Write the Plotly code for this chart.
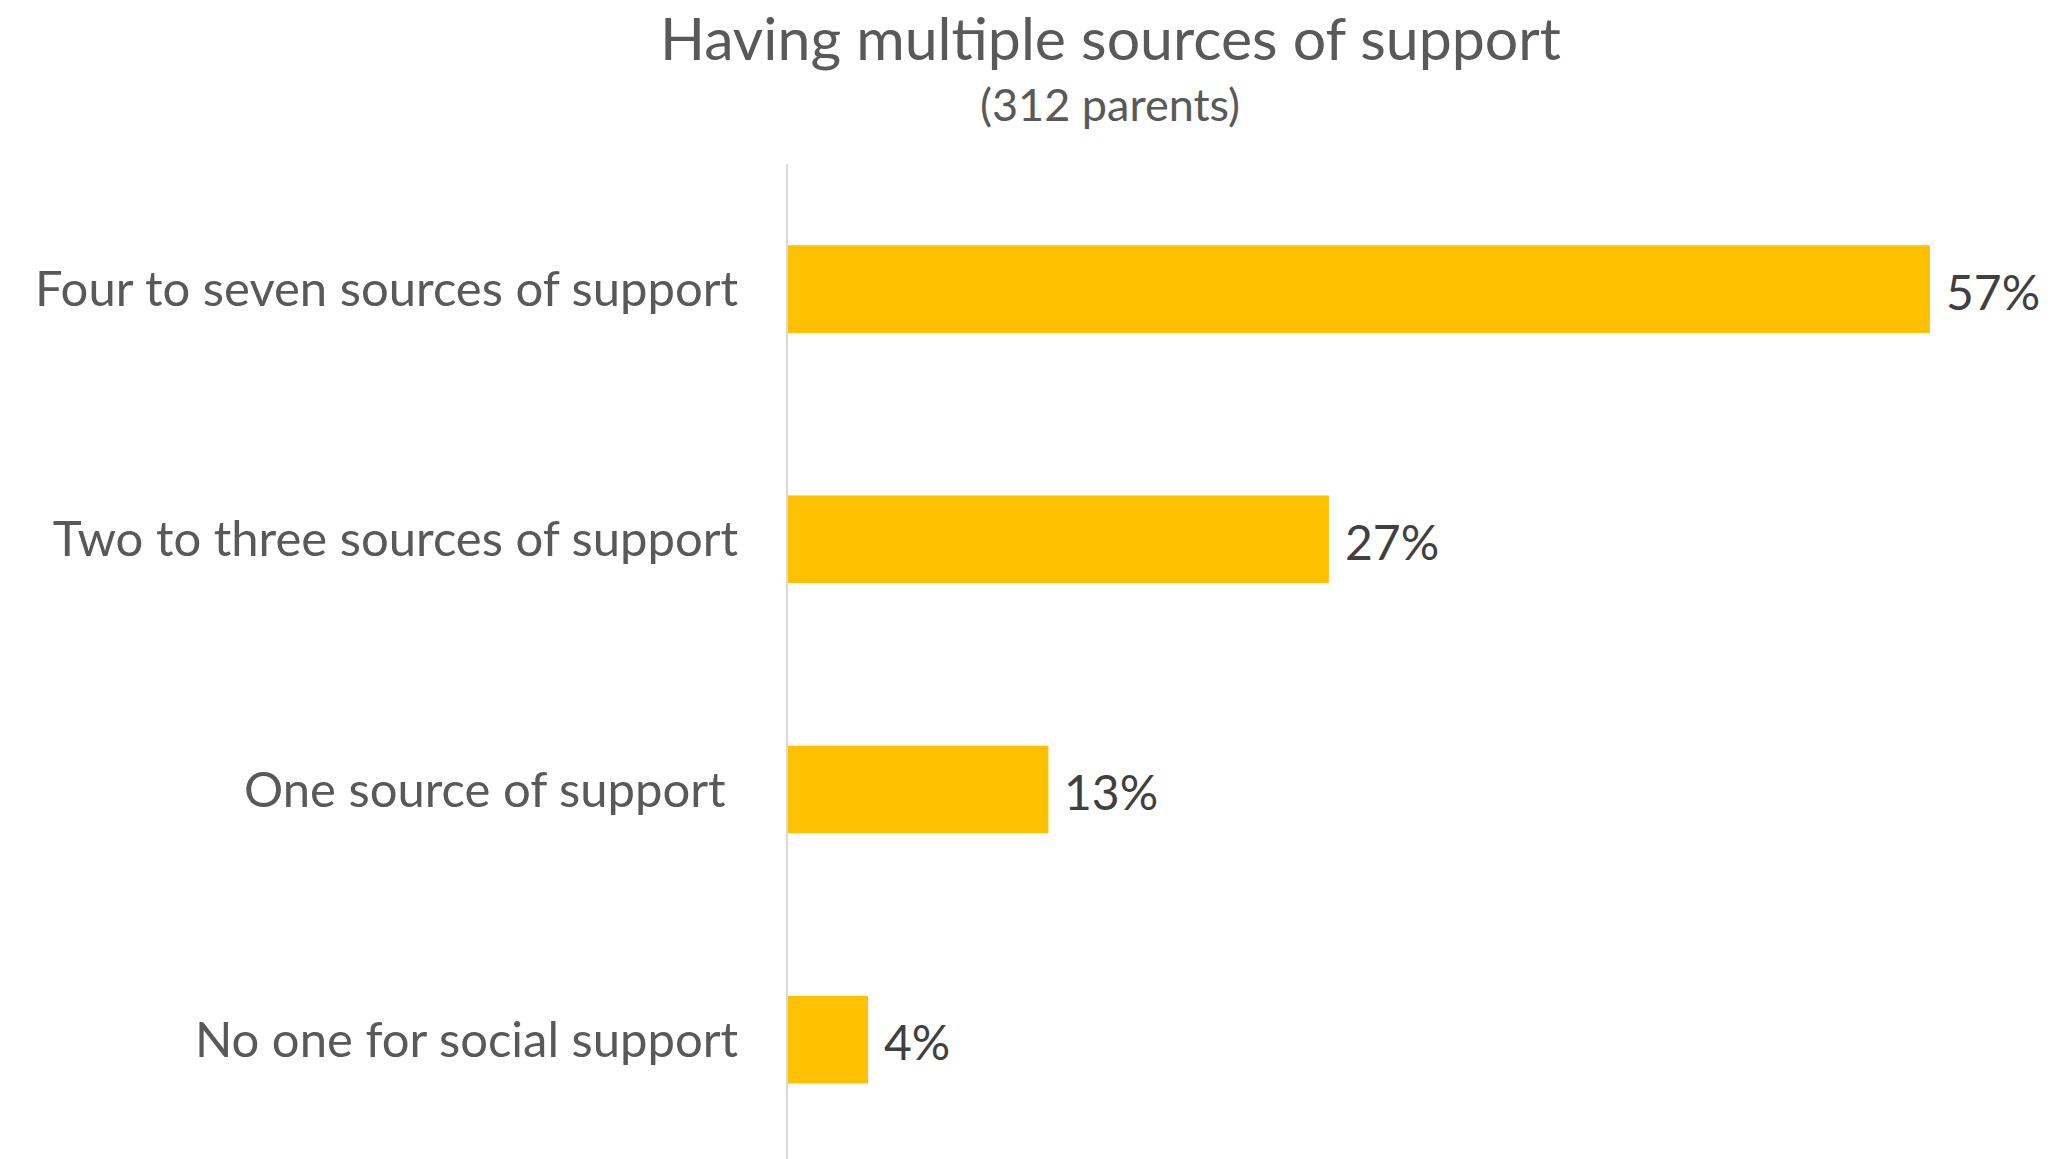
import plotly.graph_objects as go

# Share of parents by number of social-support sources
categories = [
    "No one for social support",
    "One source of support\u00a0",
    "Two to three sources of support",
    "Four to seven sources of support",
]
percentages = [4, 13, 27, 57]
value_labels = [f"{v}%" for v in percentages]

title_text = "Having multiple sources of support"
subtitle_text = "(312 parents)"

W, H = 2052, 1159
left, right, top = 788, 62, 164
plot_w = W - left - right

fig = go.Figure(
    go.Bar(
        x=percentages,
        y=categories,
        orientation="h",
        marker=dict(color="#FFC000", line=dict(width=0)),
        width=0.35,
        hoverinfo="x+y",
    )
)

# Value labels placed just past the end of each bar
for cat, val, lab in zip(categories, percentages, value_labels):
    fig.add_annotation(
        x=val, y=cat, xref="x", yref="y",
        text=lab, showarrow=False,
        xanchor="left", yanchor="middle", xshift=14, yshift=-2,
        font=dict(family="Lato", size=48, color="#404040"),
    )

fig.update_layout(
    width=W,
    height=H,
    margin=dict(l=left, r=right, t=top, b=0, pad=0),
    paper_bgcolor="white",
    plot_bgcolor="white",
    showlegend=False,
    font=dict(family="Lato", color="#595959"),
    xaxis=dict(
        range=[0, 60],
        visible=False,
        showgrid=False,
        zeroline=False,
    ),
    yaxis=dict(
        categoryorder="array",
        categoryarray=categories,
        range=[-0.477, 3.5],
        showgrid=False,
        zeroline=False,
        showline=True,
        linecolor="#D9D9D9",
        linewidth=2,
        ticks="",
        ticklabelstandoff=38,
        tickfont=dict(family="Lato", size=49, color="#595959"),
    ),
)

title_x = (1110 - left) / plot_w
fig.add_annotation(
    text=title_text,
    xref="paper", yref="paper",
    x=title_x, y=1 + (top - 38) / (H - top),
    xanchor="center", yanchor="middle",
    showarrow=False,
    font=dict(family="Lato", size=59, color="#595959"),
)
fig.add_annotation(
    text=subtitle_text,
    xref="paper", yref="paper",
    x=title_x, y=1 + (top - 104) / (H - top),
    xanchor="center", yanchor="middle",
    showarrow=False,
    font=dict(family="Lato", size=45, color="#595959"),
)

fig.write_html("out.html")
